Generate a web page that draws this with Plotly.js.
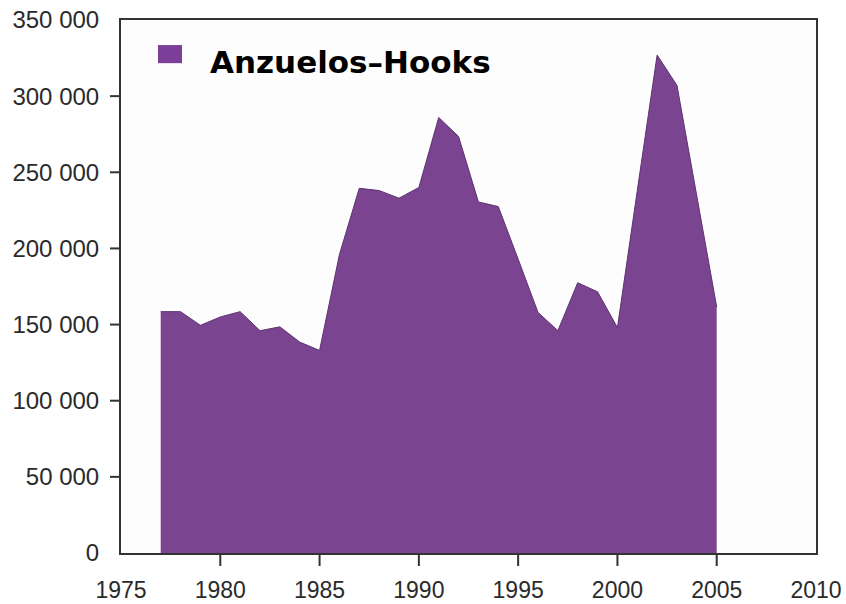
<!DOCTYPE html>
<html>
<head>
<meta charset="utf-8">
<script src="https://cdn.plot.ly/plotly-3.0.1.min.js"></script>
<style>
  html, body { margin: 0; padding: 0; background: #ffffff; }
  #chart { width: 846px; height: 604px; }
</style>
</head>
<body>
<div id="chart"></div>
<script>
// ---- data ----
const years = [1977, 1978, 1979, 1980, 1981, 1982, 1983, 1984, 1985, 1986,
               1987, 1988, 1989, 1990, 1991, 1992, 1993, 1994, 1995, 1996,
               1997, 1998, 1999, 2000, 2001, 2002, 2003, 2004, 2005];
const hooks = [158500, 158500, 149500, 155000, 158500, 146000, 148500, 138500, 133000, 196000,
               239500, 238000, 233000, 240000, 286000, 273500, 230500, 227500, 193000, 158000,
               146000, 177500, 171500, 148000, 238000, 327000, 307000, 233000, 161500];
const seriesName = "Anzuelos\u2013Hooks";

const xLabelVals = [1975, 1980, 1985, 1990, 1995, 2000, 2005, 2010];
const xLabelText = ["1975", "1980", "1985", "1990", "1995", "2000", "2005", "2010"];
const xTickVals  = [1980, 1985, 1990, 1995, 2000, 2005];

const yLabelVals = [0, 50000, 100000, 150000, 200000, 250000, 300000, 350000];
const yLabelText = ["0", "50 000", "100 000", "150 000", "200 000", "250 000", "300 000", "350 000"];
const yTickVals  = [50000, 100000, 150000, 200000, 250000, 300000];

const xRange = [1975, 2010];
const yRange = [0, 350000];

// ---- styling ----
const purple = "#7a4491";
const axisColor = "#333333";
const fontFamily = "Liberation Sans, Arial, sans-serif";

const traces = [{
  type: "scatter",
  mode: "lines",
  x: years,
  y: hooks,
  name: seriesName,
  fill: "tozeroy",
  fillcolor: purple,
  line: { color: "#5e3370", width: 1 },
  showlegend: false,
  hoverinfo: "x+y"
}];

// tick marks (only at the inner tick values, as in the reference), placed via the axes' own scales
const xTickShapes = xTickVals.map(v => ({
  type: "line", layer: "above",
  xref: "x", x0: v, x1: v,
  yref: "paper", ysizemode: "pixel", yanchor: 0, y0: 0, y1: -13,
  line: { color: axisColor, width: 2 }
}));
const yTickShapes = yTickVals.map(v => ({
  type: "line", layer: "above",
  yref: "y", y0: v, y1: v,
  xref: "paper", xsizemode: "pixel", xanchor: 0, x0: 0, x1: -11,
  line: { color: axisColor, width: 2 }
}));

const legendShape = {
  type: "rect", layer: "above",
  xref: "paper", yref: "paper",
  x0: 0.0532, x1: 0.0878,
  y0: 0.919, y1: 0.953,
  fillcolor: "#7b3f9a",
  line: { width: 0 }
};

const layout = {
  width: 846,
  height: 604,
  margin: { l: 121, r: 30, t: 20, b: 51 },
  paper_bgcolor: "#ffffff",
  plot_bgcolor: "#fdfdfd",
  showlegend: false,
  xaxis: {
    range: xRange,
    tickmode: "array",
    tickvals: xLabelVals,
    ticktext: xLabelText,
    ticks: "",
    ticklabelstandoff: 15,
    tickfont: { family: fontFamily, size: 23, color: "#2a2a2a" },
    showgrid: false,
    zeroline: false,
    showline: true,
    mirror: true,
    linecolor: axisColor,
    linewidth: 2,
    fixedrange: true
  },
  yaxis: {
    range: yRange,
    tickmode: "array",
    tickvals: yLabelVals,
    ticktext: yLabelText,
    ticks: "",
    ticklabelstandoff: 15,
    tickfont: { family: fontFamily, size: 24, color: "#2a2a2a" },
    showgrid: false,
    zeroline: false,
    showline: true,
    mirror: true,
    linecolor: axisColor,
    linewidth: 2,
    fixedrange: true
  },
  shapes: xTickShapes.concat(yTickShapes, [legendShape]),
  annotations: [{
    xref: "paper", yref: "paper",
    x: 0.1245, y: 0.921,
    xanchor: "left", yanchor: "middle",
    text: "<b>" + seriesName + "</b>",
    showarrow: false,
    font: { family: "DejaVu Sans, Liberation Sans, Arial, sans-serif", size: 31, color: "#000000" }
  }]
};

Plotly.newPlot("chart", traces, layout, { displayModeBar: false, staticPlot: true });
</script>
</body>
</html>
